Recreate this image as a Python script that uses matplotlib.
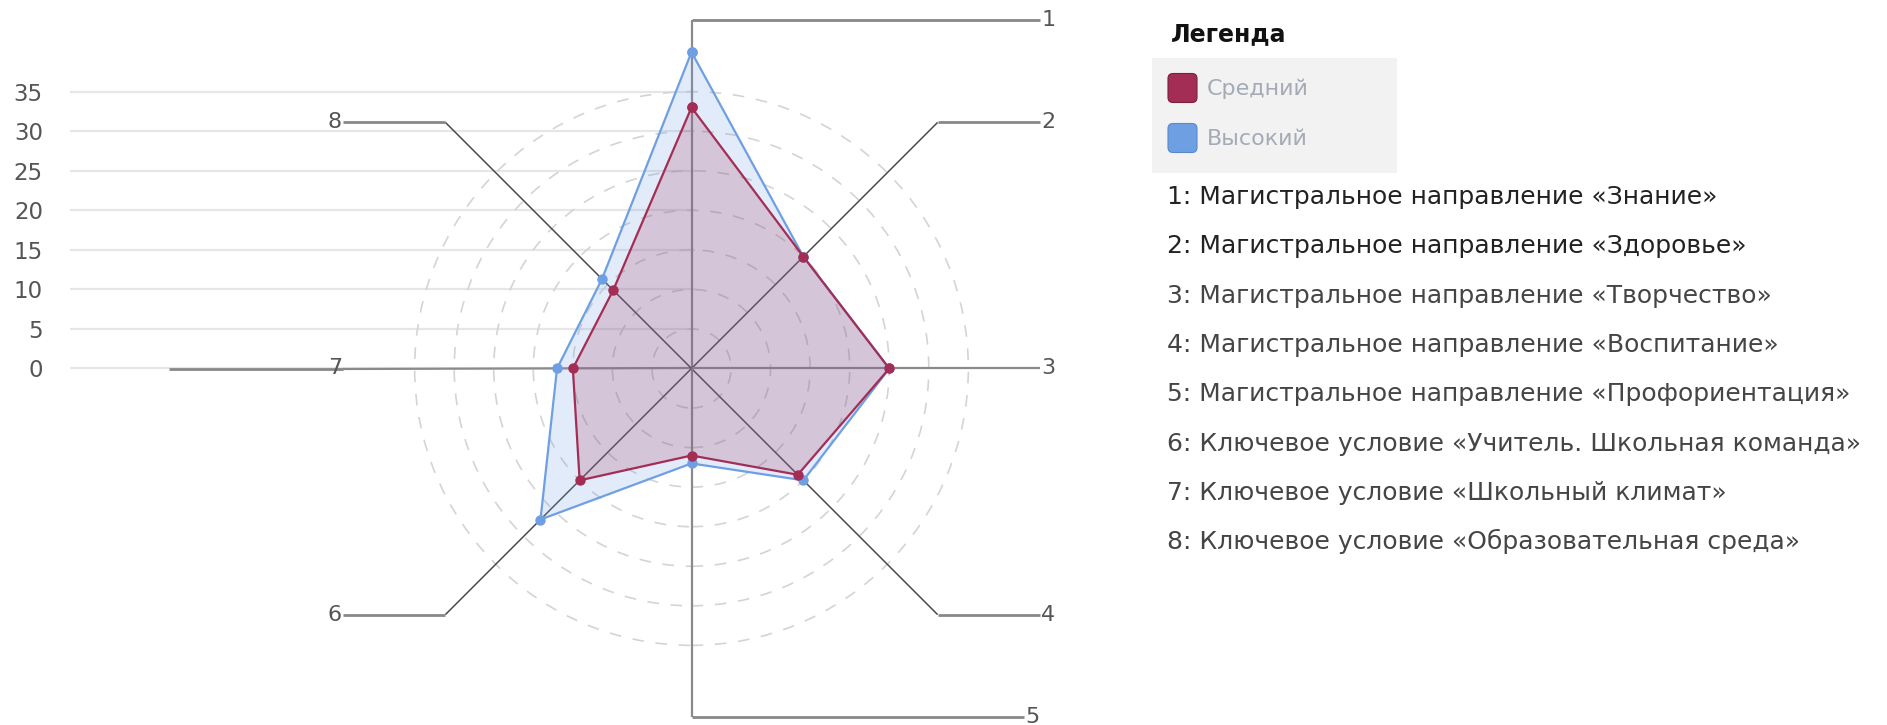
import numpy as np
import matplotlib.pyplot as plt
from matplotlib.patches import Circle, FancyBboxPatch

plt.rcParams['font.family'] = ['DejaVu Sans']

# данные
axis_ids = ['1', '2', '3', '4', '5', '6', '7', '8']
axis_names = [
    'Магистральное направление «Знание»',
    'Магистральное направление «Здоровье»',
    'Магистральное направление «Творчество»',
    'Магистральное направление «Воспитание»',
    'Магистральное направление «Профориентация»',
    'Ключевое условие «Учитель. Школьная команда»',
    'Ключевое условие «Школьный климат»',
    'Ключевое условие «Образовательная среда»',
]
series_names = ['Средний', 'Высокий']
medium = [33, 20, 25, 19, 11, 20, 15, 14]
high = [40, 20, 25, 20, 12, 27, 17, 16]
y_ticks = [0, 5, 10, 15, 20, 25, 30, 35]
rings = [5, 10, 15, 20, 25, 30, 35]
r_max = 44

colors = ['#a32d55', '#6f9fe3']

W, H = 1887, 725
k = 7.91            # пикселей на единицу
cx, cy = 691.5, 368.5
left_px = 70

fig = plt.figure(figsize=(W / 100, H / 100), dpi=100)
ax = fig.add_axes([left_px / W, 0, 1 - left_px / W, 1])
ax.set_xlim((left_px - cx) / k, (W - cx) / k)
ax.set_ylim(-(H - cy) / k, cy / k)
for s in ax.spines.values():
    s.set_visible(False)
ax.set_xticks([])
ax.set_yticks(y_ticks)
ax.tick_params(axis='y', length=0, pad=19.5, labelsize=16.5, labelcolor='#555555')

# горизонтальная сетка слева
ax.hlines(y_ticks, (left_px - cx) / k, 0.5, color='#e6e6e6', lw=1.6, zorder=0)

# пунктирные кольца
for r in rings:
    ax.add_patch(Circle((0, 0), r, fill=False, ec='#d4d4d4', lw=1.2,
                        ls=(0, (7, 7)), zorder=1))

# оси с выносками
angles = np.deg2rad(90 - 45 * np.arange(len(axis_ids)))
for i, (lab, a) in enumerate(zip(axis_ids, angles)):
    ex, ey = r_max * np.cos(a), r_max * np.sin(a)
    ex = 0 if abs(ex) < 1e-9 else ex
    side = 1 if ex >= 0 and i < 5 else -1
    diag = abs(ex) > 1e-6 and abs(ey) > 1e-6
    ax.plot([0, ex], [0, ey], color='#4a4a4a' if diag else '#8a8a8a',
            lw=1.1 if diag else 1.6, zorder=2, solid_capstyle='butt')
    end_x = side * r_max
    if i == 4:
        end_x = side * (r_max - 2)
    if i == 6:
        end_x = -66
    if abs(end_x - ex) > 1e-6:
        ax.plot([ex, end_x], [ey, ey], color='#888888', lw=2.0, zorder=2,
                solid_capstyle='butt')
    tx = side * r_max if i != 4 else side * (r_max - 2)
    ax.text(tx + side * 0.2, ey, lab, ha='left' if side > 0 else 'right',
            va='center', fontsize=16, color='#555555', zorder=3)

# ряды данных
for vals, c in [(high, colors[1]), (medium, colors[0])]:
    v = np.array(vals + vals[:1], dtype=float)
    a = np.append(angles, angles[0])
    x, y = v * np.cos(a), v * np.sin(a)
    ax.fill(x, y, color=c, alpha=0.2, lw=0, zorder=3)
    ax.plot(x, y, color=c, lw=1.6, marker='o', ms=6.5, zorder=4)

# легенда
lax = fig.add_axes([1130 / W, 0, 1 - 1130 / W, 1])
lax.set_xlim(1130, W)
lax.set_ylim(H, 0)
lax.set_axis_off()
lax.text(1171, 41, 'Легенда', fontsize=17, fontweight='bold', color='#111111',
         va='baseline', ha='left')
lax.add_patch(FancyBboxPatch((1152, 58), 245, 115, boxstyle='square,pad=0',
                             fc='#f2f2f2', ec='none'))
for j, (name, c) in enumerate(zip(series_names, colors)):
    yy = 88 + 50 * j
    lax.add_patch(FancyBboxPatch((1168, yy - 14.5), 29, 29,
                                 boxstyle='round,pad=0,rounding_size=5',
                                 fc=c, ec='#7a2040' if j == 0 else '#5a88cc', lw=0.8))
    lax.text(1207, yy + 7, name, fontsize=16, color='#a4abb6', va='baseline', ha='left')

for j, (lab, name) in enumerate(zip(axis_ids, axis_names)):
    lax.text(1167, 204 + 49.3 * j, f'{lab}: {name}', fontsize=18,
             color='#222222' if j < 2 else '#454545', va='baseline', ha='left')

fig.savefig('out.png', dpi=100)
